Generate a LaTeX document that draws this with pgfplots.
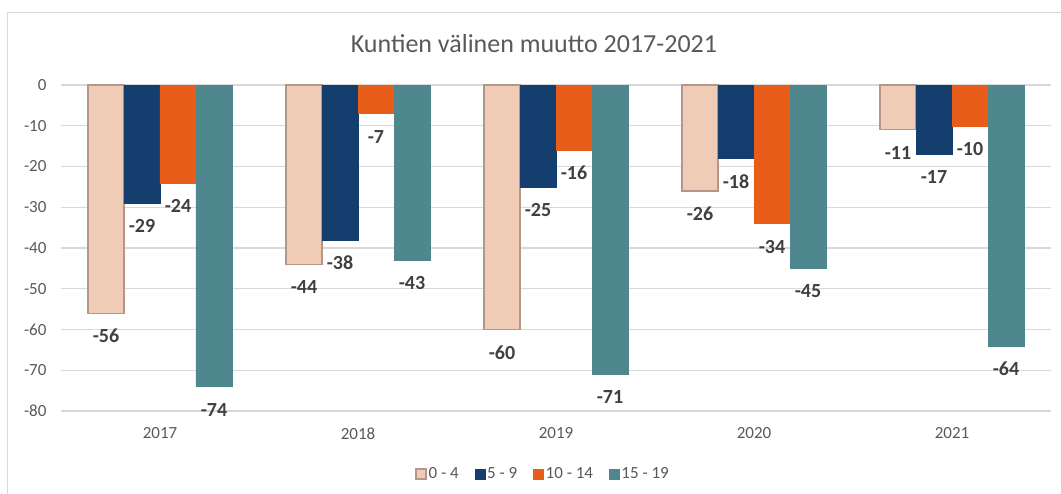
\documentclass[border=0pt]{standalone}
\usepackage{pgfplots}
\pgfplotsset{compat=1.18}
\usepackage{fontspec}
\setmainfont{Carlito}
\definecolor{cPeach}{HTML}{F0CBB6}
\definecolor{cPeachEdge}{HTML}{B3978A}
\definecolor{cNavy}{HTML}{143E6D}
\definecolor{cOrange}{HTML}{E95D1B}
\definecolor{cTeal}{HTML}{4F878E}
\definecolor{cGrid}{HTML}{D9D9D9}
\definecolor{cText}{HTML}{595959}
\definecolor{cLabel}{HTML}{404040}
\begin{document}
\begin{tikzpicture}
\begin{axis}[
  name=ax,
  scale only axis, width=990pt, height=326pt,
  ybar=0pt, bar width=36pt,
  xmin=-0.5, xmax=4.5, ymin=-80, ymax=0,
  xtick={0,1,2,3,4}, xticklabels={2017,2018,2019,2020,2021},
  ytick={-80,-70,-60,-50,-40,-30,-20,-10,0},
  ymajorgrids, grid style={cGrid, line width=1.2pt},
  axis line style={draw=none}, major tick length=0pt,
  /pgf/number format/assume math mode=true,
  tick label style={font=\fontsize{17}{20}\selectfont, text=cText},
  yticklabel style={xshift=-11pt},
  xticklabel style={yshift=-13pt},
  clip=false,
  nodes near coords,
  every node near coord/.append style={anchor=center, yshift=-23pt, font=\fontsize{20}{24}\selectfont\bfseries, text=cLabel},
  legend style={at={(0.487,-0.193)}, anchor=center, legend columns=4, draw=none,
    font=\fontsize{17}{20}\selectfont, text=cText,
    /tikz/every even column/.append style={column sep=14pt}},
  legend image code/.code={\draw[#1] (0pt,-5pt) rectangle (10pt,5pt);},
]
\addplot[fill=cPeach, draw=cPeachEdge, line width=1.2pt] coordinates {(0,-56) (1,-44) (2,-60) (3,-26) (4,-11)};
\addplot[fill=cNavy, draw=cNavy] coordinates {(0,-29) (1,-38) (2,-25) (3,-18) (4,-17)};
\addplot[fill=cOrange, draw=cOrange] coordinates {(0,-24) (1,-7) (2,-16) (3,-34) (4,-10)};
\addplot[fill=cTeal, draw=cTeal] coordinates {(0,-74) (1,-43) (2,-71) (3,-45) (4,-64)};
\legend{0 - 4, 5 - 9, 10 - 14, 15 - 19}
\end{axis}
\begin{scope}[shift={(ax.south west)}, x=1pt, y=1pt]
\path[use as bounding box] (-61,-83) rectangle (1000,411);
\draw[cGrid, line width=1.5pt] (-53.5,-83) -- (-53.5,398.5) -- (1000,398.5);
\node[font=\fontsize{26}{30}\selectfont, text=cText] at (473,367) {Kuntien välinen muutto 2017-2021};
\end{scope}
\end{tikzpicture}
\end{document}
